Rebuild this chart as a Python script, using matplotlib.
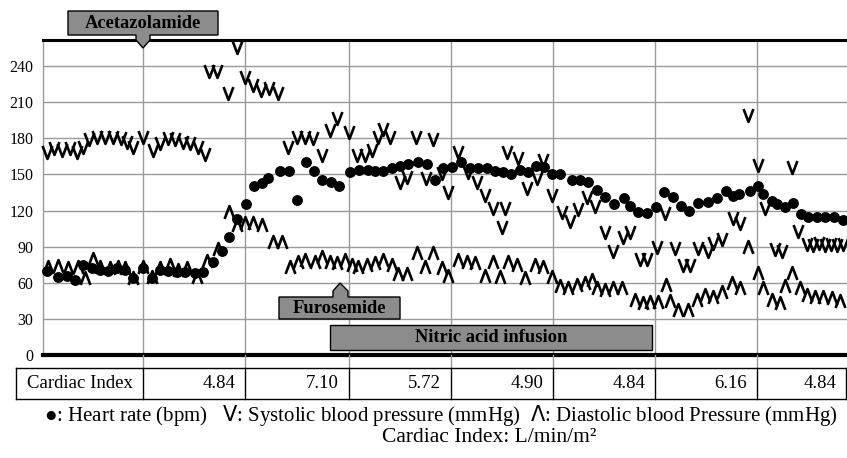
import matplotlib
matplotlib.use("Agg")
import matplotlib.pyplot as plt
from matplotlib.path import Path
from matplotlib.patches import Polygon
from matplotlib.lines import Line2D
from matplotlib.transforms import blended_transform_factory

# ---------------- data (time axis in arbitrary sample-time units) ----------------
hr_t = [47, 58, 67, 75, 83, 92, 100, 108, 117, 125, 133, 143, 152, 160, 168, 177, 185, 195, 203,
        213, 222, 229, 237, 246, 254, 262, 268, 280, 289, 297, 306, 314, 322, 331, 339, 350, 359,
        368, 375, 383, 392, 400, 408, 418, 427, 435, 443, 452, 461, 470, 478, 487, 495, 503, 511,
        520, 528, 536, 544, 552, 560, 572, 580, 588, 597, 605, 614, 624, 630, 638, 647, 656, 664,
        673, 681, 689, 698, 708, 717, 726, 733, 739, 750, 758, 763, 772, 777, 785, 793, 801, 808,
        817, 825, 834, 843]
hr_v = [70, 65, 66, 62, 75, 72, 71, 70, 72, 71, 64, 72, 64, 71, 70, 69, 69, 68, 69,
        77, 86, 98, 113, 125, 140, 143, 147, 153, 153, 129, 160, 153, 145, 144, 140, 152, 154,
        154, 153, 153, 155, 157, 159, 160, 159, 145, 155, 156, 160, 155, 155, 155, 153, 152, 150,
        154, 152, 157, 156, 150, 150, 145, 145, 144, 137, 131, 125, 130, 124, 119, 118, 123, 135,
        131, 124, 120, 126, 127, 130, 136, 132, 134, 136, 140, 134, 128, 125, 123, 126, 117, 115,
        115, 115, 115, 112]

sys_t = [47, 54, 62, 70, 77, 83, 89, 97, 105, 113, 121, 127, 133, 143, 153, 160, 168, 175, 183,
         190, 198, 205, 209, 217, 228, 237, 245, 253, 261, 269, 278, 288, 297, 305, 313, 322, 330,
         337, 349, 357, 365, 372, 378, 383, 390, 400, 407, 416, 426, 433, 442, 448, 458, 468, 477,
         485, 493, 502, 505, 507, 518, 527, 537, 543, 552, 562, 570, 578, 587, 595, 605, 613, 623,
         630, 640, 647, 657, 665, 675, 683, 690, 698, 708, 713, 722, 733, 740, 748, 758, 765, 775,
         782, 792, 798, 807, 813, 819, 825, 831, 837, 843]
sys_v = [169, 172, 170, 172, 169, 173, 179, 181, 181, 181, 180, 177, 173, 181, 170, 176, 180, 179, 177,
         176, 173, 167, 236, 236, 218, 256, 231, 224, 220, 222, 218, 173, 181, 181, 180, 166, 187,
         197, 185, 166, 166, 170, 181, 188, 181, 144, 148, 181, 147, 179, 151, 135, 169, 152, 144,
         133, 122, 106, 122, 169, 164, 139, 147, 162, 133, 119, 111, 121, 131, 124, 102, 86, 98,
         102, 80, 80, 90, 118, 89, 75, 75, 89, 86, 93, 96, 114, 110, 199, 158, 122, 88,
         86, 156, 103, 92, 91, 93, 91, 92, 91, 92]

dia_t = [48, 58, 68, 78, 85, 93, 100, 110, 118, 125, 133, 143, 152, 160, 170, 178, 187, 197, 207,
         218, 229, 237, 245, 253, 262, 273, 282, 290, 298, 305, 315, 322, 330, 337, 345, 352, 358,
         367, 375, 383, 392, 398, 407, 417, 425, 433, 442, 448, 458, 467, 475, 485, 493, 500, 508,
         517, 525, 535, 543, 552, 560, 568, 577, 585, 592, 597, 605, 613, 622, 635, 643, 650, 658,
         666, 670, 678, 688, 697, 705, 713, 722, 732, 740, 748, 758, 763, 772, 780, 785, 792, 800,
         807, 815, 823, 832, 840]
dia_v = [73, 74, 72, 73, 64, 80, 73, 72, 73, 72, 64, 73, 65, 72, 75, 71, 72, 65, 78,
         88, 119, 108, 110, 110, 108, 94, 94, 73, 77, 79, 77, 81, 77, 76, 79, 75, 73,
         75, 76, 79, 75, 67, 67, 85, 73, 85, 72, 66, 79, 77, 76, 66, 77, 65, 77,
         75, 64, 75, 73, 65, 57, 56, 58, 60, 62, 56, 54, 56, 56, 46, 43, 44, 44,
         58, 45, 37, 37, 46, 50, 48, 52, 60, 56, 90, 68, 56, 46, 43, 57, 68, 56,
         50, 48, 48, 47, 45]

phase_bounds = [143, 245, 349, 451, 553, 655, 757]
cardiac_index = ["4.84", "7.10", "5.72", "4.90", "4.84", "6.16", "4.84"]
y_ticks = [0, 30, 60, 90, 120, 150, 180, 210, 240]

# ---------------- figure ----------------
W, H, DPI = 847, 458, 100
SERIF = ['Liberation Serif', 'DejaVu Serif']
plt.rcParams['font.family'] = SERIF
plt.rcParams['mathtext.fontset'] = 'dejavusans'

fig = plt.figure(figsize=(W / DPI, H / DPI), dpi=DPI)
fig.patch.set_facecolor('white')

def fx(px):
    return px / W

def fy(py):
    return 1 - py / H

X0, X1, YTOP, YBOT = 43, 847, 40, 355
ax = fig.add_axes([fx(X0), fy(YBOT), fx(X1) - fx(X0), fy(YTOP) - fy(YBOT)])
ax.set_xlim(X0, X1)
ax.set_ylim(0, 261.6)

grid_c = '#9a9a9a'
for yv in y_ticks[1:]:
    ax.axhline(yv, color=grid_c, lw=1.0, zorder=1)
for xb in phase_bounds:
    ax.axvline(xb, color=grid_c, lw=1.0, zorder=1)

ax.spines['right'].set_visible(False)
ax.spines['left'].set_color(grid_c)
ax.spines['left'].set_linewidth(1.0)
ax.spines['top'].set_linewidth(2.2)
ax.spines['bottom'].set_linewidth(3.0)
ax.set_xticks([])
ax.set_yticks(y_ticks)
ax.set_yticklabels([str(v) for v in y_ticks], fontsize=11.5)
ax.tick_params(axis='y', length=0, pad=7)

v_marker = Path([(-0.38, 0.5), (0, -0.5), (0.38, 0.5)],
                [Path.MOVETO, Path.LINETO, Path.LINETO])
a_marker = Path([(-0.38, -0.5), (0, 0.5), (0.38, -0.5)],
                [Path.MOVETO, Path.LINETO, Path.LINETO])

ax.plot(sys_t, sys_v, ls='none', marker=v_marker, ms=9.3, mfc='none', mec='black',
        mew=1.9, zorder=3, clip_on=False)
ax.plot(dia_t, dia_v, ls='none', marker=a_marker, ms=9.3, mfc='none', mec='black',
        mew=1.9, zorder=3, clip_on=False)
ax.plot(hr_t, hr_v, ls='none', marker='o', ms=6.8, mfc='black', mec='black',
        zorder=4, clip_on=False)

# ---------------- table + grid extension ----------------
tb = blended_transform_factory(ax.transData, fig.transFigure)
T_TOP, T_BOT, T_LEFT, T_RIGHT = 368, 399, 16, 846
for xb in phase_bounds:
    fig.add_artist(Line2D([xb, xb], [fy(YBOT), fy(T_TOP)], transform=tb, color=grid_c, lw=1.0))
    fig.add_artist(Line2D([xb, xb], [fy(T_TOP), fy(T_BOT)], transform=tb, color='black', lw=1.0))
for yy in (T_TOP, T_BOT):
    fig.add_artist(Line2D([T_LEFT, T_RIGHT], [fy(yy), fy(yy)], transform=tb, color='black', lw=1.0))
for xx in (T_LEFT, T_RIGHT):
    fig.add_artist(Line2D([xx, xx], [fy(T_TOP), fy(T_BOT)], transform=tb, color='black', lw=1.0))

ymid = fy((T_TOP + T_BOT) / 2)
fig.text(fx((T_LEFT + phase_bounds[0]) / 2), ymid, "Cardiac Index", ha='center', va='center',
         fontsize=13.5)
cell_right = phase_bounds[1:] + [T_RIGHT]
for val, xr in zip(cardiac_index, cell_right):
    fig.text(fx(xr - 10), ymid, val, ha='right', va='center', fontsize=13.5)

# ---------------- legend text ----------------
fig.text(fx(441), fy(415),
         "\u25CF: Heart rate (bpm)   $\\mathsf{V}$: Systolic blood pressure (mmHg)  $\\mathsf{\\Lambda}$: Diastolic blood Pressure (mmHg)",
         ha='center', va='center', fontsize=15, family=SERIF + ['DejaVu Sans'])
fig.text(fx(489), fy(438), "Cardiac Index: L/min/m\u00B2", ha='center', va='center', fontsize=15.5)

# ---------------- annotation callouts ----------------
box_fc = '#8c8c8c'

def callout(pts, label, tx, ty, fs=13.3):
    poly = Polygon([(fx(x), fy(y)) for x, y in pts], closed=True, transform=fig.transFigure,
                   facecolor=box_fc, edgecolor='black', lw=1.0, zorder=10)
    fig.add_artist(poly)
    fig.text(fx(tx), fy(ty), label, ha='center', va='center', fontsize=fs,
             fontweight='bold', zorder=11)

callout([(68, 11), (218, 11), (218, 35), (150, 35), (150, 40), (143, 48), (136, 40), (136, 35), (68, 35)],
        "Acetazolamide", 143, 23.5)
callout([(279, 297), (333, 297), (333, 291), (340, 283), (348, 291), (348, 297), (400, 297),
         (400, 319), (279, 319)], "Furosemide", 339.5, 308.5)
callout([(330, 325), (652, 325), (652, 350), (330, 350)], "Nitric acid infusion", 491, 338)

fig.savefig("out.png", dpi=DPI)
